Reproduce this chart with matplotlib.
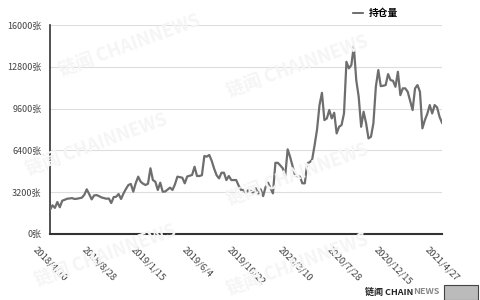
import matplotlib
matplotlib.use("Agg")
import matplotlib.pyplot as plt
from matplotlib.lines import Line2D

plt.rcParams['font.family'] = ['Noto Sans CJK SC', 'DejaVu Sans']

# ---- data ----
tick_labels = ["2018/4/10", "2018/8/28", "2019/1/15", "2019/6/4", "2019/10/22",
               "2020/3/10", "2020/7/28", "2020/12/15", "2021/4/27"]
y_ticks = [0, 3200, 6400, 9600, 12800, 16000]
series_name = "持仓量"
holdings = [
    1840, 2200, 2000, 2450, 2050, 2550, 2620, 2700, 2720, 2750,
    2680, 2700, 2740, 2780, 3000, 3420, 3050, 2650, 2950, 2980,
    2900, 2800, 2750, 2700, 2720, 2370, 2830, 2850, 3060, 2680,
    3100, 3450, 3750, 3830, 3240, 3900, 4390, 4000, 3850, 3750,
    3850, 5030, 4130, 4000, 3370, 3930, 3240, 3250, 3400, 3550,
    3370, 3800, 4390, 4350, 4310, 3880, 4400, 4460, 4520, 5150,
    4440, 4440, 4500, 5970, 5920, 6050, 5600, 5000, 4500, 4260,
    4690, 4690, 4130, 4440, 4130, 4130, 4130, 3700, 3370, 3370,
    3160, 3370, 3300, 3110, 3500, 3060, 3420, 2900, 3600, 3930,
    3500, 3110, 5450, 5450, 5250, 5030, 4440, 6480, 5900, 5200,
    4510, 4420, 4390, 3880, 3880, 5410, 5500, 5700, 6800, 8000,
    9870, 10810, 8720, 8850, 9490, 8850, 9280, 7700, 8210, 8340,
    9230, 13180, 12680, 12930, 14380, 11780, 10500, 8210, 9360, 8500,
    7320, 7440, 8470, 11270, 12550, 11320, 11350, 11400, 12240, 11780,
    11730, 11270, 12420, 10630, 11150, 11150, 10890, 10200, 9490, 11150,
    11400, 10890, 8090, 8720, 9200, 9870, 9230, 9870, 9690, 8970,
    8520,
]
label_step = 20

# ---- figure ----
fig = plt.figure(figsize=(4.8, 3.0), dpi=100)
fig.patch.set_facecolor("white")

# faint watermarks
wm_color = "#f5f5f5"
wm_pos = [(0.27, 0.85), (0.62, 0.78), (0.20, 0.52), (0.62, 0.42), (0.22, 0.15), (0.62, 0.12)]
for (wx, wy) in wm_pos:
    fig.text(wx, wy, "链闻 CHAINNEWS", fontsize=13, fontweight="bold", color=wm_color,
             rotation=20, ha="center", va="center", zorder=0)

ax = fig.add_axes([50/480, 66/300, 392/480, 209/300])
ax.set_facecolor("none")
x = list(range(len(holdings)))
ax.plot(x, holdings, color="#6e6e6e", lw=1.6, zorder=3)

ax.set_xlim(0, len(holdings) - 1)
ax.set_ylim(0, 16000)
ax.set_yticks(y_ticks)
ax.set_yticklabels([f"{v}张" for v in y_ticks], fontsize=6.5, color="#444444")
tick_pos = list(range(0, len(holdings), label_step))
ax.set_xticks(tick_pos)
ax.set_xticklabels(tick_labels[:len(tick_pos)], rotation=-45, ha="center", va="top",
                   fontsize=6.8, color="#444444")
ax.tick_params(axis="both", length=0)
ax.tick_params(axis="x", pad=8)
ax.tick_params(axis="y", pad=6)

ax.grid(axis="y", color="#dddddd", lw=0.8)
ax.set_axisbelow(True)
for s in ["top", "right"]:
    ax.spines[s].set_visible(False)
ax.spines["left"].set_color("#333333")
ax.spines["left"].set_linewidth(1.2)
ax.spines["bottom"].set_color("#333333")
ax.spines["bottom"].set_linewidth(1.5)

# legend
ax.legend([Line2D([0], [0], color="#555555", lw=1.2)], [series_name],
          loc="lower center", bbox_to_anchor=(0.83, 1.0), frameon=False,
          handlelength=1.0, handletextpad=0.6, prop={"size": 7, "weight": "bold"},
          borderaxespad=0.3)

# branding bottom-right
t1 = fig.text(365/480, 1 - 292/300, "链闻 CHAIN", fontsize=6.5, fontweight="bold",
              color="#222222", ha="left", va="center")
fig.canvas.draw()
bb = t1.get_window_extent()
fig.text(bb.x1 / fig.bbox.width, 1 - 292/300, "NEWS", fontsize=6.5, fontweight="bold",
         color="#888888", ha="left", va="center")
fig.patches.append(plt.Rectangle((444/480, 0), 34/480, 15/300, transform=fig.transFigure,
                                 facecolor="#bbbbbb", edgecolor="#444444", lw=0.8))

fig.savefig("out.png", dpi=100)
